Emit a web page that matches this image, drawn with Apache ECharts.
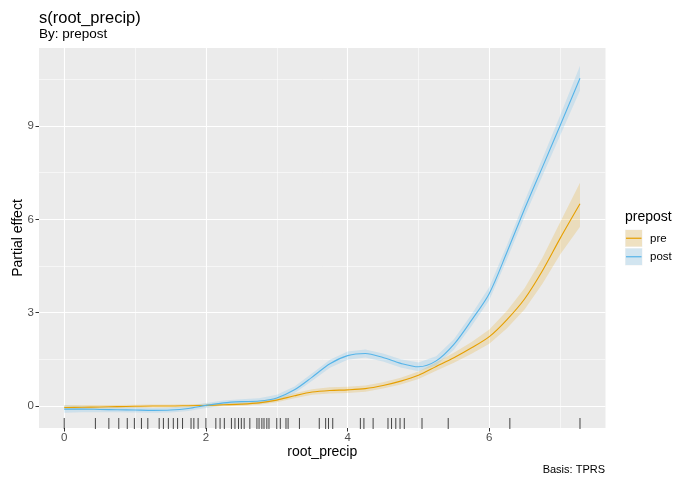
<!DOCTYPE html>
<html>
<head>
<meta charset="utf-8">
<script src="https://cdn.jsdelivr.net/npm/echarts@6/dist/echarts.min.js"></script>
<style>
html,body{margin:0;padding:0;background:#fff;}
#chart{width:690px;height:487px;}
</style>
</head>
<body>
<div id="chart"></div>
<script>
// ---- data ----
const xs = [0,0.25,0.5,0.75,1,1.25,1.5,1.75,2,2.25,2.5,2.75,3,3.25,3.5,3.75,4,4.25,4.5,4.75,5,5.25,5.5,5.75,6,6.25,6.5,6.75,7,7.28];

const postFit   = [-0.10,-0.10,-0.11,-0.12,-0.13,-0.14,-0.13,-0.08,0.02,0.10,0.14,0.16,0.26,0.52,0.93,1.36,1.62,1.69,1.56,1.37,1.26,1.45,1.98,2.76,3.62,4.95,6.35,7.68,9.02,10.54];
const postLower = [-0.22,-0.20,-0.20,-0.20,-0.21,-0.22,-0.21,-0.16,-0.06,0.02,0.06,0.07,0.16,0.41,0.81,1.23,1.49,1.56,1.43,1.24,1.12,1.30,1.81,2.57,3.41,4.72,6.10,7.40,8.70,10.14];
const postUpper = [0.02,0.00,-0.02,-0.04,-0.05,-0.06,-0.05,0.00,0.10,0.18,0.22,0.25,0.36,0.63,1.05,1.49,1.75,1.82,1.69,1.50,1.40,1.60,2.15,2.95,3.83,5.18,6.60,7.96,9.34,10.94];

const preFit   = [-0.05,-0.04,-0.03,-0.02,-0.01,0.00,0.00,0.01,0.02,0.04,0.06,0.10,0.19,0.33,0.45,0.50,0.52,0.56,0.66,0.80,0.99,1.27,1.55,1.87,2.23,2.78,3.45,4.35,5.39,6.50];
const preLower = [-0.13,-0.11,-0.09,-0.07,-0.06,-0.05,-0.05,-0.04,-0.03,-0.01,0.01,0.04,0.12,0.25,0.36,0.40,0.42,0.46,0.56,0.69,0.87,1.13,1.39,1.68,2.00,2.50,3.11,3.93,4.87,5.76];
const preUpper = [0.03,0.03,0.03,0.03,0.04,0.05,0.05,0.06,0.07,0.09,0.11,0.16,0.26,0.41,0.54,0.60,0.62,0.66,0.76,0.91,1.11,1.41,1.71,2.06,2.46,3.06,3.79,4.77,5.91,7.18];

const rugX = [0,0.44,0.63,0.77,0.89,0.99,1.09,1.18,1.34,1.40,1.47,1.54,1.60,1.67,1.79,1.83,1.89,2.0,2.14,2.20,2.26,2.36,2.41,2.46,2.50,2.54,2.62,2.72,2.75,2.79,2.82,2.86,2.89,3.0,3.05,3.13,3.16,3.32,3.60,3.69,3.73,3.79,4.18,4.23,4.36,4.57,4.62,4.68,4.74,4.80,5.05,5.42,6.29,7.28];

const xMajor = [0,2,4,6];
const xMinor = [1,3,5,7];
const yMajor = [0,3,6,9];
const yMinor = [1.5,4.5,7.5,10.5];

const lineColors = {pre:'#E69F00', post:'#56B4E9'};
const bandColors = {pre:'rgba(230,159,0,0.2)', post:'rgba(86,180,233,0.2)'};

// ---- build ----
const X_MIN = -0.356, X_MAX = 7.64, Y_MIN = -0.707, Y_MAX = 11.51;
const FONT = '"Liberation Sans", Arial, sans-serif';

function pairs(a){ return xs.map((x,i)=>[x,a[i]]); }

function bandSeries(name, lo, hi){
  return {
    type:'custom', name:name+'_band', z:2, silent:true,
    data: xs.map((x,i)=>[x, lo[i], hi[i]]),
    encode:{x:0, y:[1,2]},
    renderItem:function(params, api){
      if (params.dataIndex !== 0) return null;
      const pts = [];
      for (let i=0;i<xs.length;i++) pts.push(api.coord([xs[i], hi[i]]));
      for (let i=xs.length-1;i>=0;i--) pts.push(api.coord([xs[i], lo[i]]));
      return {type:'polygon', shape:{points:pts}, style:{fill:bandColors[name], stroke:null}};
    }
  };
}

const chart = echarts.init(document.getElementById('chart'), null, {renderer:'canvas'});

const axisCommon = {type:'value', axisLine:{show:false, onZero:false}};

const option = {
  animation:false,
  backgroundColor:'#ffffff',
  textStyle:{fontFamily:FONT},
  title:[
    {text:'s(root_precip)', left:39, top:10, padding:0,
     textStyle:{fontFamily:FONT, fontSize:16.5, fontWeight:'normal', color:'#000'}},
    {text:'By: prepost', left:39, top:27, padding:0,
     textStyle:{fontFamily:FONT, fontSize:13.5, fontWeight:'normal', color:'#000'}}
  ],
  grid:{left:39, right:84.5, top:48, bottom:59, show:true, backgroundColor:'#EBEBEB', borderWidth:0, outerBoundsMode:'none', containLabel:false},
  xAxis:[
    Object.assign({}, axisCommon, {
      min:X_MIN, max:X_MAX,
      axisTick:{show:true, customValues:xMajor, length:3.5, lineStyle:{color:'#333', width:1}},
      axisLabel:{show:true, customValues:xMajor, color:'#4D4D4D', fontSize:11.5, margin:4, fontFamily:FONT},
      splitLine:{show:true, lineStyle:{color:'#ffffff', width:1.1}},
      name:'root_precip', nameLocation:'middle', nameGap:17, nameMoveOverlap:false,
      nameTextStyle:{fontFamily:FONT, fontSize:14, color:'#000'}
    }),
    Object.assign({}, axisCommon, {
      min:X_MIN, max:X_MAX, position:'bottom',
      axisTick:{show:false, customValues:xMinor},
      axisLabel:{show:false},
      splitLine:{show:true, lineStyle:{color:'#ffffff', width:0.55}}
    })
  ],
  yAxis:[
    Object.assign({}, axisCommon, {
      min:Y_MIN, max:Y_MAX,
      axisTick:{show:true, customValues:yMajor, length:3.5, lineStyle:{color:'#333', width:1}},
      axisLabel:{show:true, customValues:yMajor, color:'#4D4D4D', fontSize:11.5, margin:5, fontFamily:FONT},
      splitLine:{show:true, lineStyle:{color:'#ffffff', width:1.1}},
      name:'Partial effect', nameLocation:'middle', nameGap:14, nameRotate:90, nameMoveOverlap:false,
      nameTextStyle:{fontFamily:FONT, fontSize:14, color:'#000'}
    }),
    Object.assign({}, axisCommon, {
      min:Y_MIN, max:Y_MAX, position:'left',
      axisTick:{show:false, customValues:yMinor},
      axisLabel:{show:false},
      splitLine:{show:true, lineStyle:{color:'#ffffff', width:0.55}}
    })
  ],
  series:[
    bandSeries('pre', preLower, preUpper),
    bandSeries('post', postLower, postUpper),
    {type:'line', name:'pre', data:pairs(preFit), symbol:'none', smooth:0.3,
     lineStyle:{color:lineColors.pre, width:1.1}, z:3, silent:true},
    {type:'line', name:'post', data:pairs(postFit), symbol:'none', smooth:0.3,
     lineStyle:{color:lineColors.post, width:1.1}, z:3, silent:true},
    {type:'custom', name:'rug', data:rugX.map(v=>[v]), z:4, silent:true,
     encode:{x:0},
     renderItem:function(params, api){
       const p = api.coord([api.value(0), Y_MIN]);
       return {type:'line', shape:{x1:p[0], y1:p[1]+1, x2:p[0], y2:p[1]-10},
               style:{stroke:'#1a1a1a', lineWidth:1, opacity:0.8}};
     }}
  ],
  graphic:[
    {type:'text', x:625, y:217, style:{text:'prepost', fontFamily:FONT, fontSize:14, fill:'#000', verticalAlign:'middle'}},
    {type:'rect', x:625, y:229.5, shape:{width:17.5, height:17.5}, style:{fill:'#F2F2F2'}},
    {type:'rect', x:625.5, y:230, shape:{width:16.5, height:16.5}, style:{fill:bandColors.pre}},
    {type:'line', shape:{x1:626, y1:238.25, x2:641.5, y2:238.25}, style:{stroke:lineColors.pre, lineWidth:1.2}},
    {type:'rect', x:625, y:248, shape:{width:17.5, height:17.5}, style:{fill:'#F2F2F2'}},
    {type:'rect', x:625.5, y:248.5, shape:{width:16.5, height:16.5}, style:{fill:bandColors.post}},
    {type:'line', shape:{x1:626, y1:256.75, x2:641.5, y2:256.75}, style:{stroke:lineColors.post, lineWidth:1.2}},
    {type:'text', x:650, y:238.5, style:{text:'pre', fontFamily:FONT, fontSize:11.5, fill:'#000', verticalAlign:'middle'}},
    {type:'text', x:650, y:257, style:{text:'post', fontFamily:FONT, fontSize:11.5, fill:'#000', verticalAlign:'middle'}},
    {type:'text', x:605, y:470, style:{text:'Basis: TPRS', fontFamily:FONT, fontSize:11, fill:'#000', align:'right', verticalAlign:'middle'}}
  ]
};
chart.setOption(option);
</script>
</body>
</html>
